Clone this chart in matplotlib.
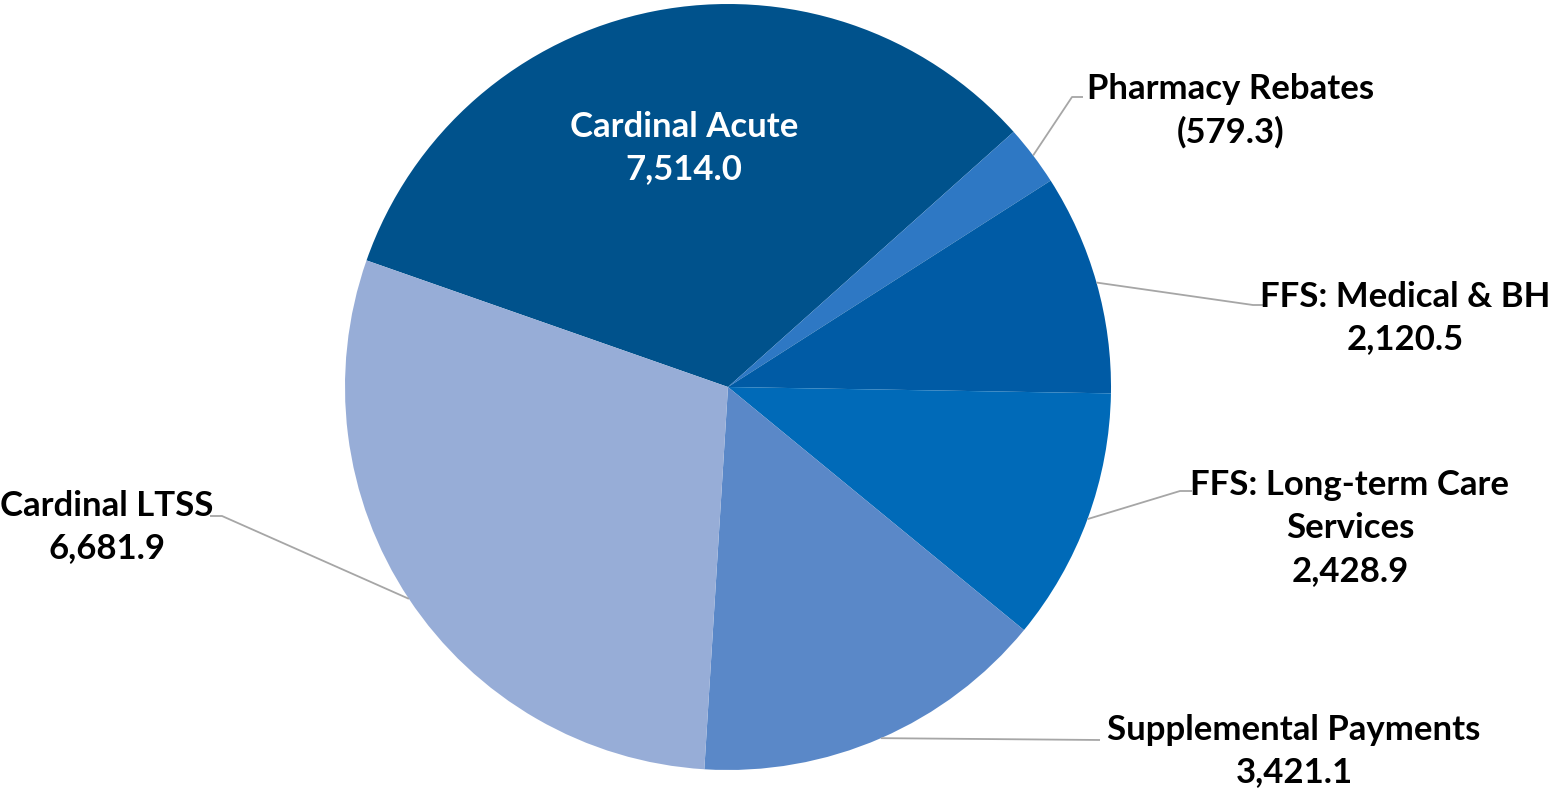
import matplotlib.pyplot as plt
import numpy as np

# slice data, clockwise from the Cardinal Acute slice
categories = ["Cardinal Acute", "Pharmacy Rebates", "FFS: Medical & BH",
              "FFS: Long-term Care\nServices", "Supplemental Payments", "Cardinal LTSS"]
values = [7514.0, -579.3, 2120.5, 2428.9, 3421.1, 6681.9]
colors = ["#00528C", "#2E78C4", "#005BA5", "#006AB8", "#5A88C8", "#97ADD7"]

plt.rcParams['font.family'] = ['Lato', 'DejaVu Sans']

fig = plt.figure(figsize=(15.54, 7.89), dpi=100)
ax = fig.add_axes([0, 0, 1, 1])

cx, cy, r = 728, 402, 383
sizes = [abs(v) for v in values]
wedges, _ = ax.pie(sizes, colors=colors, startangle=160.7, counterclock=False,
                   center=(cx, cy), radius=r)
ax.set_xlim(0, 1554)
ax.set_ylim(0, 789)
ax.set_aspect('equal')
ax.axis('off')


def fmt(v):
    if v < 0:
        return "({:,.1f})".format(-v)
    return "{:,.1f}".format(v)


# label layout: (elbow x, elbow y, line end x, text x, text y)
layout = [
    None,
    (1072, 692, 1083, 1231, 678),
    (1253, 484, 1263, 1405, 471),
    (1180, 298, 1192, 1350, 261),
    (1100, 49, 1100, 1294, 38),
    (222, 273, 210, 107, 262),
]

fs = 25
ls = 1.42
for i, w in enumerate(wedges):
    label = categories[i] + "\n" + fmt(values[i])
    mid = np.deg2rad((w.theta1 + w.theta2) / 2)
    if i == 0:
        ax.text(684, 641, label, ha='center', va='center', color='white',
                fontsize=fs, fontweight='bold', linespacing=ls)
        continue
    ex, ey, lx, tx, ty = layout[i]
    ax0 = cx + r * np.cos(mid)
    ay0 = cy + r * np.sin(mid)
    ax.plot([ax0, ex, lx], [ay0, ey, ey], color='#A6A6A6', lw=1.3,
            solid_capstyle='butt')
    ax.text(tx, ty, label, ha='center', va='center', color='black',
            fontsize=fs, fontweight='bold', linespacing=ls)

fig.savefig("out.png", dpi=100)
